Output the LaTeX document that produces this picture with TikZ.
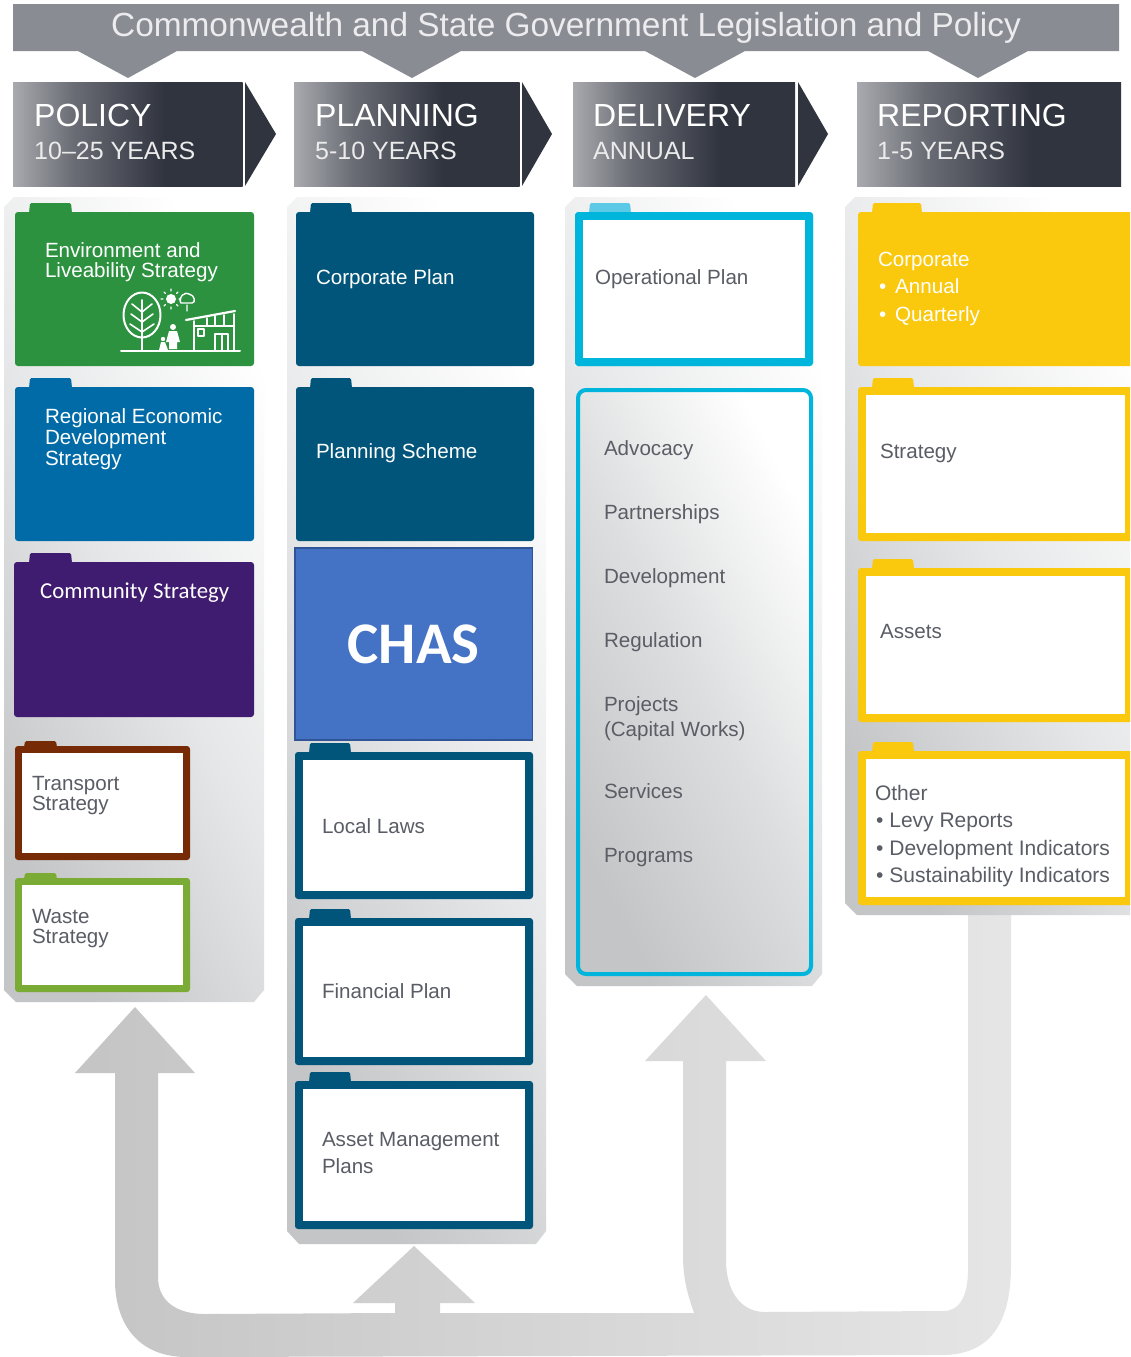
\documentclass[tikz,border=0pt]{standalone}
\usepackage{fontspec}
\setmainfont{Liberation Sans}
\newfontfamily\calib{Carlito}
\definecolor{bandgrey}{HTML}{8A8C94}
\definecolor{hdrdark}{HTML}{30343F}
\definecolor{envgreen}{HTML}{2C9240}
\definecolor{regblue}{HTML}{006BA6}
\definecolor{commpurple}{HTML}{3F1C6F}
\definecolor{trbrown}{HTML}{762A05}
\definecolor{wastegreen}{HTML}{7AAB35}
\definecolor{planteal}{HTML}{02557A}
\definecolor{chasblue}{HTML}{4472C4}
\definecolor{chasedge}{HTML}{2F5597}
\definecolor{delcyan}{HTML}{00B5DC}
\definecolor{deltab}{HTML}{5CC9E6}
\definecolor{repyellow}{HTML}{FAC80D}
\definecolor{bodytext}{HTML}{5A5D65}
\definecolor{bandtext}{HTML}{ECECEE}
\definecolor{panellow}{HTML}{C4C5C7}
\definecolor{panelmid}{HTML}{E6E7E8}
\pgfdeclarehorizontalshading{hdrshade}{100bp}{color(0bp)=(hdrdark!35!white);color(25bp)=(hdrdark!42!white);color(38bp)=(hdrdark!72!white);color(58bp)=(hdrdark);color(100bp)=(hdrdark)}
\tikzset{
  x=1pt,y=-1pt,
  panel/.style={top color=white,bottom color=panellow,middle color=panelmid,shading angle=-62},
  hdr/.style={shading=hdrshade},
  chev/.style={fill=hdrdark},
  tl/.style={anchor=base west,inner sep=0pt,outer sep=0pt,font=\fontsize{20.6}{20.6}\selectfont,text=bodytext},
  ml/.style={anchor=north west,inner sep=0pt,outer sep=0pt,align=left,text=bodytext},
  wt/.style={text=white},
  big/.style={anchor=base west,inner sep=0pt,font=\fontsize{32}{32}\selectfont,text=white},
  sub/.style={anchor=base west,inner sep=0pt,font=\fontsize{25}{25}\selectfont,text=white!92!black},
  ico/.style={draw=white,line width=2pt,line cap=round,line join=round},
}
% solid folder: x1 y1 x2 y2 tabx1 tabx2 taby colour
\newcommand\sfolder[8]{%
  \fill[#8,rounded corners=1.5pt] (#5,#2+1) -- (#5+1,#7) -- (#6-1,#7) -- (#6,#2+1) -- cycle;
  \fill[#8,rounded corners=3pt] (#1,#2) rectangle (#3,#4);}
% outlined folder: same, plus border width (9)
\newcommand\ofolder[9]{%
  \fill[#8,rounded corners=1.5pt] (#5,#2+1) -- (#5+1,#7) -- (#6-1,#7) -- (#6,#2+1) -- cycle;
  \fill[#8,rounded corners=3pt] (#1,#2) rectangle (#3,#4);
  \fill[white] (#1+#9,#2+#9) rectangle (#3-#9,#4-#9);}
\begin{document}
\begin{tikzpicture}
\clip (0,0) rectangle (1130,1357);
\fill[white] (0,0) rectangle (1130,1357);
% top band
\fill[bandgrey] (13,4) -- (1119,4) -- (1119,51) -- (1028,51) -- (978,78) -- (928,51) -- (745,51) -- (695,78) -- (645,51) -- (461,51) -- (412,78) -- (362,51) -- (177,51) -- (128,78) -- (78,51) -- (13,51) -- cycle;
\node[anchor=base,inner sep=0pt,font=\fontsize{33.4}{33.4}\selectfont,text=bandtext] (band) at (566,36) {Commonwealth and State Government Legislation and Policy};
% headers
\path[hdr] (13,82) rectangle (242.5,186);
\path[hdr] (294,82) rectangle (519.5,186);
\path[hdr] (573,82) rectangle (795,186);
\path[hdr] (857,82) rectangle (1121,186);
\fill[chev] (245,82) -- (276,134) -- (245,186) -- cycle;
\fill[chev] (522,82) -- (552,134) -- (522,186) -- cycle;
\fill[chev] (798,82) -- (828,134) -- (798,186) -- cycle;
\node[big] (hpol) at (34,126) {POLICY};
\node[sub] (spol) at (34,159) {10–25 YEARS};
\node[big] (hpla) at (315,126) {PLANNING};
\node[sub] (spla) at (315,159) {5-10 YEARS};
\node[big] (hdel) at (593,126) {DELIVERY};
\node[sub] (sdel) at (593,159) {ANNUAL};
\node[big] (hrep) at (877,126) {REPORTING};
\node[sub] (srep) at (877,159) {1-5 YEARS};
% big feedback arrows
\shade[left color=black!23,right color=black!10]
  (1011,910) -- (1011,1265) .. controls (1011,1330) and (985,1354) .. (944,1355)
  -- (187,1357) .. controls (135,1357) and (115,1320) .. (115,1280)
  -- (115,1073) -- (75,1073) -- (135,1007) -- (195,1073) -- (158,1073)
  -- (158,1277) .. controls (158,1300) and (175,1314) .. (205,1314)
  -- (395,1313) -- (395,1303) -- (353,1303) -- (414,1246) -- (475,1303) -- (440,1303) -- (440,1313)
  -- (694,1313) .. controls (688,1295) and (683,1280) .. (683,1255)
  -- (683,1061) -- (645,1061) -- (706,995) -- (766,1061) -- (726,1061)
  -- (726,1260) .. controls (726,1290) and (740,1312) .. (765,1312)
  -- (944,1311) .. controls (960,1311) and (968,1295) .. (968,1270) -- (968,910) -- cycle;
% panels
\shade[panel] (14,197) -- (264,197) -- (264,990) -- (254,1002) -- (16,1002) -- (4,990) -- (4,207) -- cycle;
\shade[panel] (297,197) -- (546,197) -- (546,1231) -- (536,1244) -- (299,1244) -- (287,1231) -- (287,207) -- cycle;
\shade[panel] (575,197) -- (822,197) -- (822,974) -- (812,986) -- (577,986) -- (565,974) -- (565,207) -- cycle;
\shade[panel] (855,197) -- (1140,197) -- (1140,915) -- (857,915) -- (845,903) -- (845,207) -- cycle;
% column 1
\sfolder{15}{212}{254}{366}{29}{72}{203}{envgreen}
\sfolder{15}{387}{254}{541}{29}{72}{378}{regblue}
\sfolder{14}{562}{254}{717}{29}{72}{553}{commpurple}
\ofolder{15}{746}{190}{860}{24}{57}{741}{trbrown}{7}
\ofolder{15}{878}{190}{992}{24}{57}{873}{wastegreen}{7}
\node[ml,wt,font=\fontsize{20.6}{20}\selectfont] (env) at (45,243) {Environment and\\Liveability Strategy};
\node[ml,wt,font=\fontsize{20.6}{21}\selectfont] (reg) at (45,409) {Regional Economic\\Development\\Strategy};
\node[anchor=base west,inner sep=0pt,text=white,font=\calib\fontsize{22.8}{22.8}\selectfont] (comm) at (40,598) {Community Strategy};
\node[ml,font=\fontsize{20.6}{20}\selectfont] (trans) at (32,776) {Transport\\Strategy};
\node[ml,font=\fontsize{20.6}{20}\selectfont] (waste) at (32,909) {Waste\\Strategy};
% icon
\draw[ico] (121,351) -- (240,351);
\draw[ico] (142,350) -- (142,300);
\draw[ico] (142,315) ellipse [x radius=18.5,y radius=22.5];
\draw[ico,line width=1.6pt] (131,314) -- (142,322) -- (153,314) (132,304) -- (142,312) -- (152,304) (130,324) -- (142,332) -- (154,324);
\fill[white] (171,299) circle (5);
\draw[ico,line width=1.2pt] (171,289) -- (171,291) (171,307) -- (171,309) (161,299) -- (163,299) (179,299) -- (181,299) (164,292) -- (165.5,293.5) (176.5,304.5) -- (178,306) (178,292) -- (176.5,293.5) (164,306) -- (165.5,304.5);
\draw[ico,line width=1.4pt] (181,303) .. controls (177,297) and (186,291) .. (189,294) .. controls (195,295) and (196,303) .. (192,303) -- cycle (187,305) -- (187,311);
\fill[white] (173,327) circle (3) (169,331) -- (177,331) -- (180,342) -- (177,342) -- (177,349) -- (169,349) -- (169,342) -- (166,342) -- cycle;
\fill[white] (163,339) circle (2.2) (161,342) -- (165,342) -- (168,350) -- (159,350) -- cycle;
\draw[ico,line width=2.2pt] (186,320) -- (235,311);
\draw[ico,line width=1.6pt] (194,321) -- (194,350) (234,314) -- (234,350) (194,326) -- (234,326) (207,318) -- (207,326) (215,316) -- (215,326) (224,315) -- (224,326);
\draw[ico,line width=1.4pt] (198,329) rectangle (204,336) (215,350) -- (215,334) -- (228,334) -- (228,350) (222,334) -- (222,350);
% column 2
\sfolder{296}{212}{534}{366}{310}{352}{203}{planteal}
\sfolder{296}{387}{534}{541}{310}{352}{378}{planteal}
\ofolder{295}{752}{533}{899}{309}{351}{743}{planteal}{8}
\ofolder{295}{918}{533}{1065}{309}{351}{909}{planteal}{8}
\ofolder{295}{1081}{533}{1229}{309}{351}{1072}{planteal}{8}
\node[draw=chasedge,line width=1.5pt,fill=chasblue,minimum width=237.5pt,minimum height=192pt,inner sep=0pt,text=white,font=\calib\bfseries\fontsize{59}{59}\selectfont] (chas) at (413.75,644) {CHAS};
\node[tl,wt] (corp) at (316,284) {Corporate Plan};
\node[tl,wt] (plans) at (316,458) {Planning Scheme};
\node[tl] (laws) at (322,833) {Local Laws};
\node[tl] (fin) at (322,998) {Financial Plan};
\node[ml,font=\fontsize{20.6}{27}\selectfont] (amp) at (322,1132) {Asset Management\\Plans};
% column 3
\ofolder{575}{212}{813}{366}{589}{631}{203}{deltab}{0}
\fill[delcyan,rounded corners=3pt] (575,212) rectangle (813,366);
\fill[white] (583,220) rectangle (805,358);
\shade[draw=delcyan,line width=4pt,rounded corners=8pt,top color=white,bottom color=panellow,middle color=panelmid!96!black,shading angle=-62] (578,390) rectangle (811,974);
\node[tl] (oper) at (595,284) {Operational Plan};
\node[tl] (adv) at (604,455) {Advocacy};
\node[tl] (part) at (604,519) {Partnerships};
\node[tl] (dev) at (604,583) {Development};
\node[tl] (regu) at (604,647) {Regulation};
\node[ml,font=\fontsize{20.6}{25}\selectfont] (proj) at (604,697) {Projects\\(Capital Works)};
\node[tl] (serv) at (604,798) {Services};
\node[tl] (prog) at (604,862) {Programs};
% column 4
\sfolder{858}{212}{1145}{366}{872}{922}{203}{repyellow}
\ofolder{858}{387}{1133}{541}{872}{914}{378}{repyellow}{8}
\ofolder{858}{568}{1133}{722}{872}{914}{559}{repyellow}{8}
\ofolder{858}{751}{1133}{905}{872}{914}{742}{repyellow}{8}
\node[ml,wt,font=\fontsize{20.6}{27.5}\selectfont] (rcorp) at (878,252) {Corporate\\\hspace*{1pt}•\hspace*{9pt}Annual\\\hspace*{1pt}•\hspace*{9pt}Quarterly};
\node[tl] (rstr) at (880,458) {Strategy};
\node[tl] (rass) at (880,638) {Assets};
\node[ml,font=\fontsize{21}{27.5}\selectfont] (roth) at (875,785) {Other\\\hspace*{1pt}•\hspace*{6pt}Levy Reports\\\hspace*{1pt}•\hspace*{6pt}Development Indicators\\\hspace*{1pt}•\hspace*{6pt}Sustainability Indicators};
\end{tikzpicture}
\end{document}
